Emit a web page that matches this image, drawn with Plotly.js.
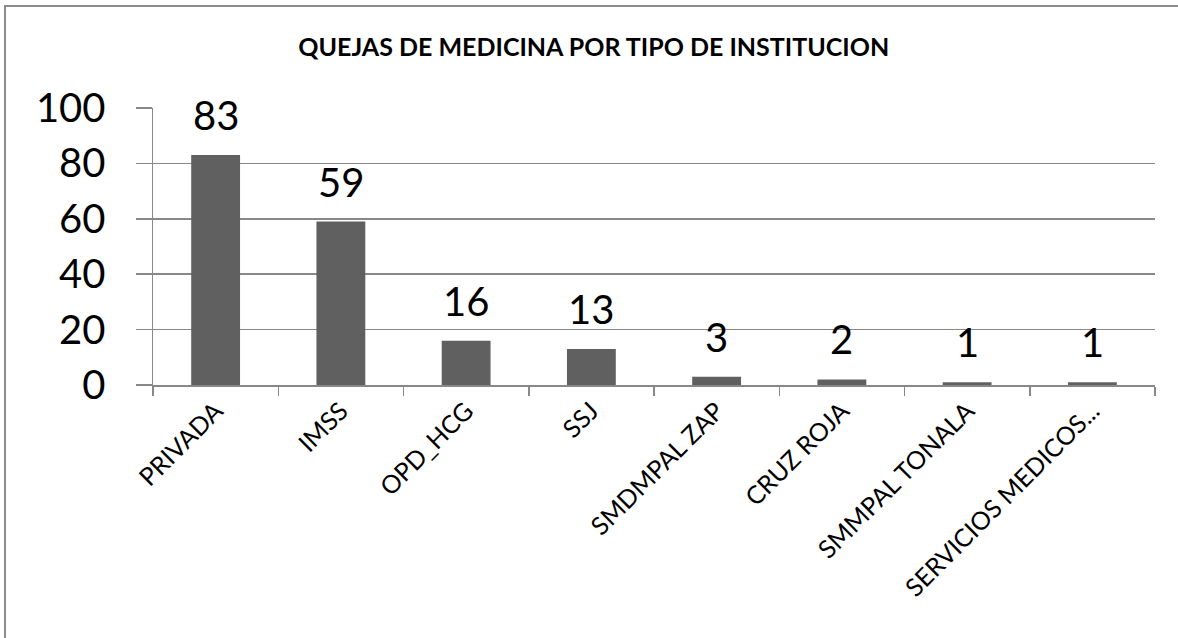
<!DOCTYPE html>
<html>
<head>
<meta charset="utf-8">
<script src="https://cdn.plot.ly/plotly-3.0.1.min.js"></script>
<style>
  html, body { margin: 0; padding: 0; background: #ffffff; overflow: hidden; }
  #wrap { position: relative; width: 1178px; height: 638px; }
  #chart { width: 1178px; height: 638px; }
  #frame { position: absolute; left: 4px; top: 5px; width: 1300px; height: 800px;
           border-left: 2px solid #8c8c8c; border-top: 2px solid #8c8c8c;
           pointer-events: none; box-sizing: border-box; }
</style>
</head>
<body>
<div id="wrap">
  <div id="chart"></div>
  <div id="frame"></div>
</div>
<script>
const categories = ["PRIVADA", "IMSS", "OPD_HCG", "SSJ", "SMDMPAL ZAP", "CRUZ ROJA", "SMMPAL TONALA", "SERVICIOS MEDICOS..."];
const values = [83, 59, 16, 13, 3, 2, 1, 1];
const yTicks = [0, 20, 40, 60, 80, 100];
const chartTitle = "QUEJAS DE MEDICINA POR TIPO DE INSTITUCION";

const FONT = "Lato, 'Open Sans', sans-serif";
const gridColor = "#888888";

const trace = {
  type: "bar",
  x: categories,
  y: values,
  marker: { color: "#606060", line: { width: 0 } },
  hoverinfo: "skip"
};

const annotations = categories.map((c, i) => ({
  x: c, y: values[i], xref: "x", yref: "y",
  text: String(values[i]),
  showarrow: false,
  yanchor: "bottom",
  yshift: 14,
  font: { family: FONT, size: 40, color: "#000000" }
}));

const L = 153, R = 23, T = 108, B = 253;

const layout = {
  width: 1178, height: 638,
  margin: { l: L, r: R, t: T, b: B, pad: 0 },
  paper_bgcolor: "#ffffff",
  plot_bgcolor: "#ffffff",
  showlegend: false,
  bargap: 0.61,
  title: {
    text: "<b>" + chartTitle + "</b>",
    font: { family: FONT, size: 25, color: "#000000" },
    x: 0.504, xanchor: "center",
    y: 1 - 47 / 638, yanchor: "middle", yref: "container"
  },
  xaxis: {
    type: "category",
    tickangle: -45,
    tickson: "boundaries",
    ticks: "outside", ticklen: 9, tickwidth: 1.5, tickcolor: gridColor,
    showline: true, linecolor: gridColor, linewidth: 1.5,
    showgrid: false, zeroline: false,
    tickfont: { family: FONT, size: 25, color: "#000000" },
    fixedrange: true
  },
  yaxis: {
    range: [0, 100],
    tickvals: yTicks,
    ticktext: yTicks.map(String),
    ticks: "outside", ticklen: 16, tickwidth: 1.5, tickcolor: gridColor,
    ticklabelstandoff: 22,
    showline: true, linecolor: gridColor, linewidth: 1.5,
    showgrid: true, gridcolor: gridColor, gridwidth: 1.5,
    zeroline: false,
    tickfont: { family: FONT, size: 40, color: "#000000" },
    fixedrange: true
  },
  annotations: annotations
};

Plotly.newPlot("chart", [trace], layout, { displayModeBar: false, staticPlot: true });
</script>
</body>
</html>
